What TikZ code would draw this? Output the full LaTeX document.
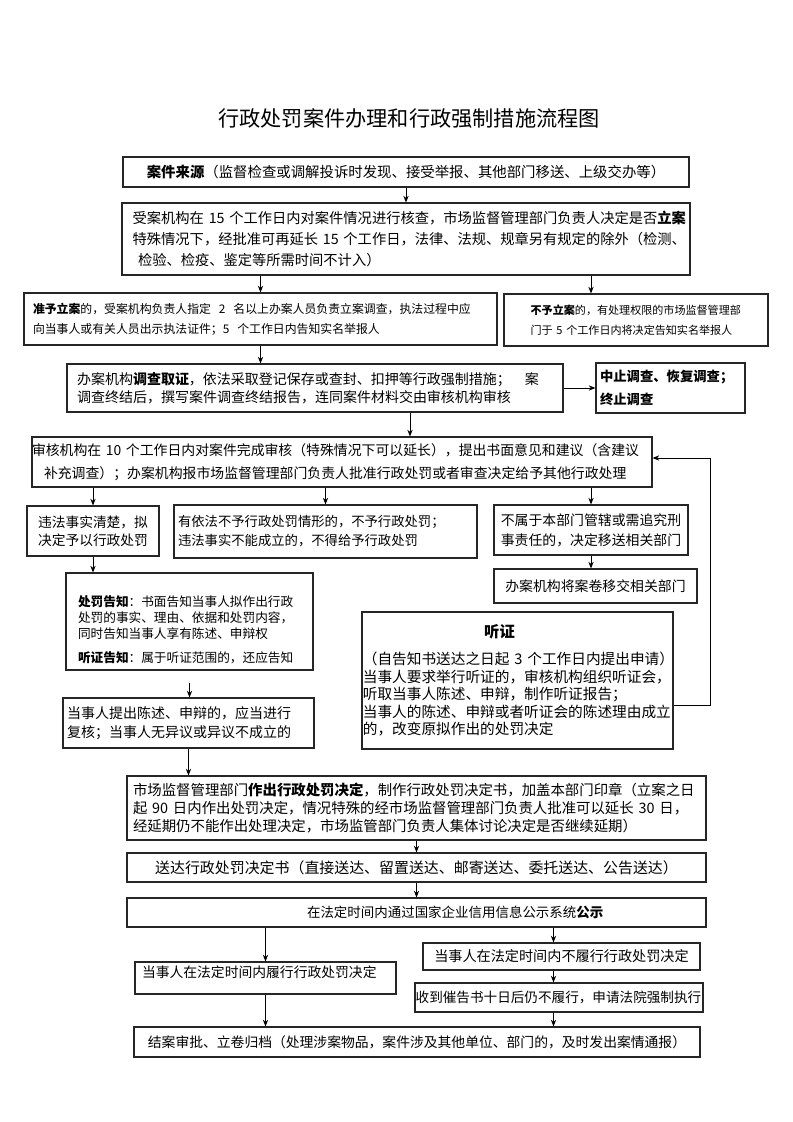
\documentclass[tikz,border=0pt]{standalone}
\usepackage{fontspec}
\setmainfont{Noto Sans CJK SC}
\usepackage{tikz}
\usetikzlibrary{arrows.meta,calc,positioning}

\tikzset{
  box/.style={draw=black!85, line width=0.9pt, rectangle, inner sep=0pt},
}

\begin{document}
\begin{tikzpicture}[>={Stealth[length=5pt,width=4pt]}, x=0.75pt, y=-0.75pt, line width=0.7pt]
\useasboundingbox (0,0) rectangle (793,1122);

\node[font=\fontsize{15.9}{18}\selectfont] (title) at (409,118) {行政处罚案件办理和行政强制措施流程图};

% case source and filing check
\node[box, minimum width=424.5pt, minimum height=22.5pt, font=\fontsize{10.8}{13}\selectfont] (src) at (406,172)
  {\textbf{案件来源}（监督检查或调解投诉时发现、接受举报、其他部门移送、上级交办等）};
\node[box, minimum width=426pt, minimum height=54pt, text width=410pt, inner xsep=8pt, align=left, font=\fontsize{10.7}{15.4}\selectfont] (check) at (406,239)
  {受案机构在 15 个工作日内对案件情况进行核查，市场监督管理部门负责人决定是否\textbf{立案}\\特殊情况下，经批准可再延长 15 个工作日，法律、法规、规章另有规定的除外（检测、\\\hspace*{4pt}检验、检疫、鉴定等所需时间不计入）};
\node[box, minimum width=354.75pt, minimum height=39pt, text width=341.25pt, inner xsep=6.75pt, align=left, font=\fontsize{8.9}{15}\selectfont] (open) at (260.5,319)
  {\textbf{准予立案}的，受案机构负责人指定\ \ 2\ \ 名以上办案人员负责立案调查，执法过程中应\\向当事人或有关人员出示执法证件；5\ \ 个工作日内告知实名举报人};
\node[box, minimum width=198pt, minimum height=39pt, text width=158pt, inner xsep=20pt, align=left, font=\fontsize{8.3}{15}\selectfont] (refuse) at (636,320)
  {\textbf{不予立案}的，有处理权限的市场监督管理部\\门于 5 个工作日内将决定告知实名举报人};

% investigation
\node[box, minimum width=372pt, minimum height=36pt, text width=357pt, inner xsep=7.5pt, align=left, font=\fontsize{10.5}{13.5}\selectfont] (probe) at (315,388)
  {办案机构\textbf{调查取证}，依法采取登记保存或查封、扣押等行政强制措施；\quad 案\\调查终结后，撰写案件调查终结报告，连同案件材料交由审核机构审核};
\node[box, minimum width=111.75pt, minimum height=37.5pt, text width=105.75pt, inner xsep=3pt, align=left, font=\fontsize{10}{17.5}\selectfont\bfseries] (stop) at (670.5,388)
  {中止调查、恢复调查；\\终止调查};

% review
\node[box, minimum width=465pt, minimum height=37.5pt, text width=465pt, inner xsep=0pt, align=left, font=\fontsize{10.4}{17}\selectfont] (review) at (342,462)
  {审核机构在 10 个工作日内对案件完成审核（特殊情况下可以延长），提出书面意见和建议（含建议\\\hspace*{9pt}补充调查）；办案机构报市场监督管理部门负责人批准行政处罚或者审查决定给予其他行政处理};

\node[box, minimum width=99pt, minimum height=37.5pt, align=center, font=\fontsize{10.3}{13.5}\selectfont] (clear) at (93,531)
  {违法事实清楚，拟\\决定予以行政处罚};
\node[box, minimum width=227.25pt, minimum height=39.75pt, text width=221.25pt, inner xsep=3pt, align=left, font=\fontsize{10}{14.25}\selectfont] (noact) at (325.5,531.5)
  {有依法不予行政处罚情形的，不予行政处罚；\\违法事实不能成立的，不得给予行政处罚};
\node[box, minimum width=145.5pt, minimum height=37.5pt, align=center, font=\fontsize{10.4}{15}\selectfont] (transfer) at (591,530)
  {不属于本部门管辖或需追究刑\\事责任的，决定移送相关部门};
\node[box, minimum width=152.25pt, minimum height=25.5pt, font=\fontsize{10.4}{13}\selectfont] (handover) at (595.5,586)
  {办案机构将案卷移交相关部门};

% notice and hearing
\node[box, minimum width=185.25pt, minimum height=72.75pt, text width=167.25pt, inner xsep=9pt, align=left, font=\fontsize{9.5}{12}\selectfont] (notice) at (189.5,621.5)
  {\rule{0pt}{20pt}\textbf{处罚告知}：书面告知当事人拟作出行政\\处罚的事实、理由、依据和处罚内容，\\同时告知当事人享有陈述、申辩权\\[6pt]\textbf{听证告知}：属于听证范围的，还应告知};
\node[box, minimum width=188.25pt, minimum height=37.5pt, text width=182.25pt, inner xsep=3pt, align=left, font=\fontsize{10.5}{14.25}\selectfont] (reply) at (188.5,723)
  {当事人提出陈述、申辩的，应当进行\\复核；当事人无异议或异议不成立的};
\node[box, minimum width=233.25pt, minimum height=102.75pt, text width=232pt, inner xsep=0.6pt, align=left, font=\fontsize{11}{13.1}\selectfont] (hearing) at (517.5,680.5)
  {\hspace*{91pt}{\fontsize{11.5}{13}\selectfont\textbf{听证}}\\[7pt]\mbox{（自告知书送达之日起 3 个工作日内提出申请）}\\当事人要求举行听证的，审核机构组织听证会，\\听取当事人陈述、申辩，制作听证报告；\\当事人的陈述、申辩或者听证会的陈述理由成立\\的，改变原拟作出的处罚决定};

% decision and after
\node[box, minimum width=434.25pt, minimum height=48pt, text width=425.25pt, inner xsep=4.5pt, align=left, font=\fontsize{10.8}{13.5}\selectfont] (decide) at (416.5,808)
  {市场监督管理部门\textbf{作出行政处罚决定}，制作行政处罚决定书，加盖本部门印章（立案之日\\起 90 日内作出处罚决定，情况特殊的经市场监督管理部门负责人批准可以延长 30 日，\\经延期仍不能作出处理决定，市场监管部门负责人集体讨论决定是否继续延期）};
\node[box, minimum width=434.25pt, minimum height=21.75pt, font=\fontsize{11.2}{13}\selectfont] (deliver) at (416.5,867.5)
  {送达行政处罚决定书（直接送达、留置送达、邮寄送达、委托送达、公告送达）};
\node[box, minimum width=434.25pt, minimum height=21.75pt, font=\fontsize{10.1}{13}\selectfont] (publish) at (416.5,912.5)
  {\hspace*{58pt}在法定时间内通过国家企业信用信息公示系统\textbf{公示}};
\node[box, minimum width=195.75pt, minimum height=24pt, text width=185.25pt, inner xsep=5.25pt, align=left, font=\fontsize{10.35}{13}\selectfont] (perform) at (265.5,978)
  {当事人在法定时间内履行行政处罚决定\rule[-9pt]{0pt}{9pt}};
\node[box, minimum width=207.75pt, minimum height=20.25pt, font=\fontsize{10.6}{13}\selectfont] (default) at (561.5,956.5)
  {当事人在法定时间内不履行行政处罚决定};
\node[box, minimum width=216pt, minimum height=21.75pt, text width=215pt, inner xsep=0.5pt, align=left, font=\fontsize{10.2}{13}\selectfont] (enforce) at (559,997.5)
  {收到催告书十日后仍不履行，申请法院强制执行};
\node[box, minimum width=424.5pt, minimum height=22.5pt, font=\fontsize{10.35}{13}\selectfont] (close) at (417,1042)
  {结案审批、立卷归档（处理涉案物品，案件涉及其他单位、部门的，及时发出案情通报）};

% connectors
\draw[->] (src) -- (check);
\draw[->] (check.south -| open.north) -- (open.north);
\draw[->] ($(check.south)+(185,0)$) -- ($(refuse.north)+(-45,0)$);
\draw[->] (open.south) -- (open.south |- probe.north);
\draw[->] (probe) -- (stop);
\draw[->] ($(probe.south)+(95,0)$) -- ($(review.north)+(68,0)$);
\draw[->] (review.south -| clear.north) -- (clear.north);
\draw[->] (review.south -| noact.north) -- (noact.north);
\draw[->] (review.south -| transfer.north) -- (transfer.north);
\draw[->] (transfer.south) -- (transfer.south |- handover.north);
\draw[->] (clear.south) -- (clear.south |- notice.north);
\draw[->, shorten <=9pt] (notice.south) -- (notice.south |- reply.north);
\draw[->] (reply.south) -- (reply.south |- decide.north);
\draw[->] ($(hearing.east)+(0,24.5)$) -- ++(37,0) |- ($(review.east)+(0,-4)$);
\draw[->] (decide) -- (deliver);
\draw[->] (deliver) -- (publish);
\draw[->] (publish.south -| perform.north) -- (perform.north);
\draw[->] ($(publish.south)+(137,0)$) -- ($(default.north)+(-8,0)$);
\draw[->] ($(default.south)+(-8,0)$) -- ($(enforce.north)+(-5.5,0)$);
\draw[->] (perform.south) -- (perform.south |- close.north);
\draw[->] ($(enforce.south)+(-5.5,0)$) -- ($(close.north)+(136.5,0)$);
\end{tikzpicture}
\end{document}
